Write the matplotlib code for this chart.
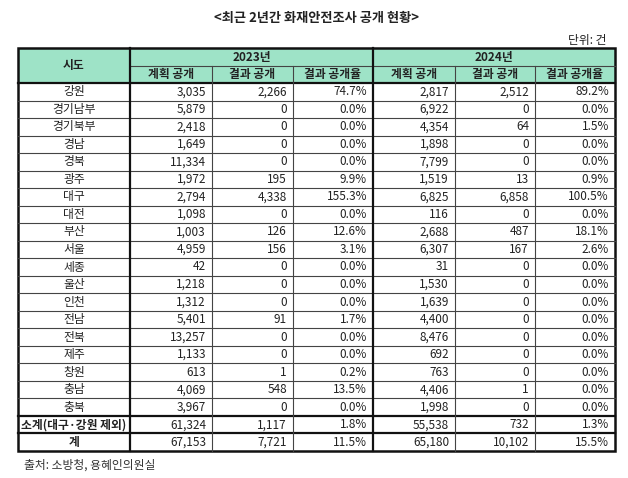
import matplotlib.pyplot as plt
from matplotlib.patches import Rectangle

plt.rcParams['font.family'] = ['Noto Sans CJK KR', 'DejaVu Sans']

# ── data (단위: 건) ──
regions = ['강원', '경기남부', '경기북부', '경남', '경북', '광주', '대구', '대전',
           '부산', '서울', '세종', '울산', '인천', '전남', '전북', '제주', '창원',
           '충남', '충북', '소계(대구·강원 제외)', '계']
plan23 = [3035, 5879, 2418, 1649, 11334, 1972, 2794, 1098, 1003, 4959, 42, 1218,
          1312, 5401, 13257, 1133, 613, 4069, 3967, 61324, 67153]
result23 = [2266, 0, 0, 0, 0, 195, 4338, 0, 126, 156, 0, 0, 0, 91, 0, 0, 1, 548,
            0, 1117, 7721]
rate23 = [74.7, 0.0, 0.0, 0.0, 0.0, 9.9, 155.3, 0.0, 12.6, 3.1, 0.0, 0.0, 0.0,
          1.7, 0.0, 0.0, 0.2, 13.5, 0.0, 1.8, 11.5]
plan24 = [2817, 6922, 4354, 1898, 7799, 1519, 6825, 116, 2688, 6307, 31, 1530,
          1639, 4400, 8476, 692, 763, 4406, 1998, 55538, 65180]
result24 = [2512, 0, 64, 0, 0, 13, 6858, 0, 487, 167, 0, 0, 0, 0, 0, 0, 0, 1, 0,
            732, 10102]
rate24 = [89.2, 0.0, 1.5, 0.0, 0.0, 0.9, 100.5, 0.0, 18.1, 2.6, 0.0, 0.0, 0.0,
          0.0, 0.0, 0.0, 0.0, 0.0, 0.0, 1.3, 15.5]
years = ['2023년', '2024년']
sub_headers = ['계획 공개', '결과 공개', '결과 공개율']

# ── layout (pixel coords) ──
W, H = 628, 478
col_x = [18, 130, 212, 293, 373, 455, 535, 615]
top, h1, h2 = 48, 66, 83
row_h = (451 - h2) / len(regions)
row_y = [h2 + i * row_h for i in range(len(regions) + 1)]
header_color = '#9ee3c7'
ink = '#222222'
fs = 8.5

fig = plt.figure(figsize=(W / 100, H / 100), dpi=100)
ax = fig.add_axes([0, 0, 1, 1])
ax.set_xlim(0, W)
ax.set_ylim(H, 0)
ax.axis('off')

# title / unit / source
ax.text(W / 2 + 3, 18, '<최근 2년간 화재안전조사 공개 현황>', ha='center', va='center',
        fontsize=9.5, fontweight='bold', color=ink)
ax.text(607, 40, '단위: 건', ha='right', va='center', fontsize=fs, color=ink)
ax.text(24, 465, '출처: 소방청, 용혜인의원실', ha='left', va='center', fontsize=fs,
        color='#333333')

# header fill
ax.add_patch(Rectangle((col_x[0], top), col_x[-1] - col_x[0], h2 - top,
                       facecolor=header_color, edgecolor='none'))
ax.text((col_x[0] + col_x[1]) / 2, (top + h2) / 2, '시도', ha='center', va='center',
        fontsize=fs, fontweight='bold', color=ink)
for g, year in enumerate(years):
    x0, x1 = col_x[1 + 3 * g], col_x[4 + 3 * g]
    ax.text((x0 + x1) / 2, (top + h1) / 2, year, ha='center', va='center',
            fontsize=fs, fontweight='bold', color=ink)
    for k, lab in enumerate(sub_headers):
        c0, c1 = col_x[1 + 3 * g + k], col_x[2 + 3 * g + k]
        ax.text((c0 + c1) / 2, (h1 + h2) / 2, lab, ha='center', va='center',
                fontsize=fs, fontweight='bold', color=ink)

# body
for i, name in enumerate(regions):
    yc = (row_y[i] + row_y[i + 1]) / 2
    fw = 'bold' if i >= len(regions) - 2 else 'normal'
    ax.text((col_x[0] + col_x[1]) / 2, yc, name, ha='center', va='center',
            fontsize=fs, fontweight=fw, color=ink)
    vals = [f'{plan23[i]:,}', f'{result23[i]:,}', f'{rate23[i]:.1f}%',
            f'{plan24[i]:,}', f'{result24[i]:,}', f'{rate24[i]:.1f}%']
    for j, v in enumerate(vals):
        ax.text(col_x[j + 2] - 6, yc, v, ha='right', va='center', fontsize=fs,
                color=ink)

# grid lines
thin = dict(color='#444444', lw=0.8)
thick = dict(color='#111111', lw=1.6)
# horizontal
ax.plot([col_x[1], col_x[-1]], [h1, h1], **thin)
for i, y in enumerate(row_y[1:-1], start=1):
    style = thick if i >= len(regions) - 2 else thin
    ax.plot([col_x[0], col_x[-1]], [y, y], **style)
ax.plot([col_x[0], col_x[-1]], [h2, h2], **thick)
# vertical
for j, x in enumerate(col_x[1:-1], start=1):
    if j in (1, 4):
        ax.plot([x, x], [top, row_y[-1]], **thick)
    else:
        ax.plot([x, x], [h1, row_y[-1]], **thin)
# outer border
ax.add_patch(Rectangle((col_x[0], top), col_x[-1] - col_x[0], row_y[-1] - top,
                       facecolor='none', edgecolor='#111111', lw=1.8))

fig.savefig('out.png', dpi=100)
